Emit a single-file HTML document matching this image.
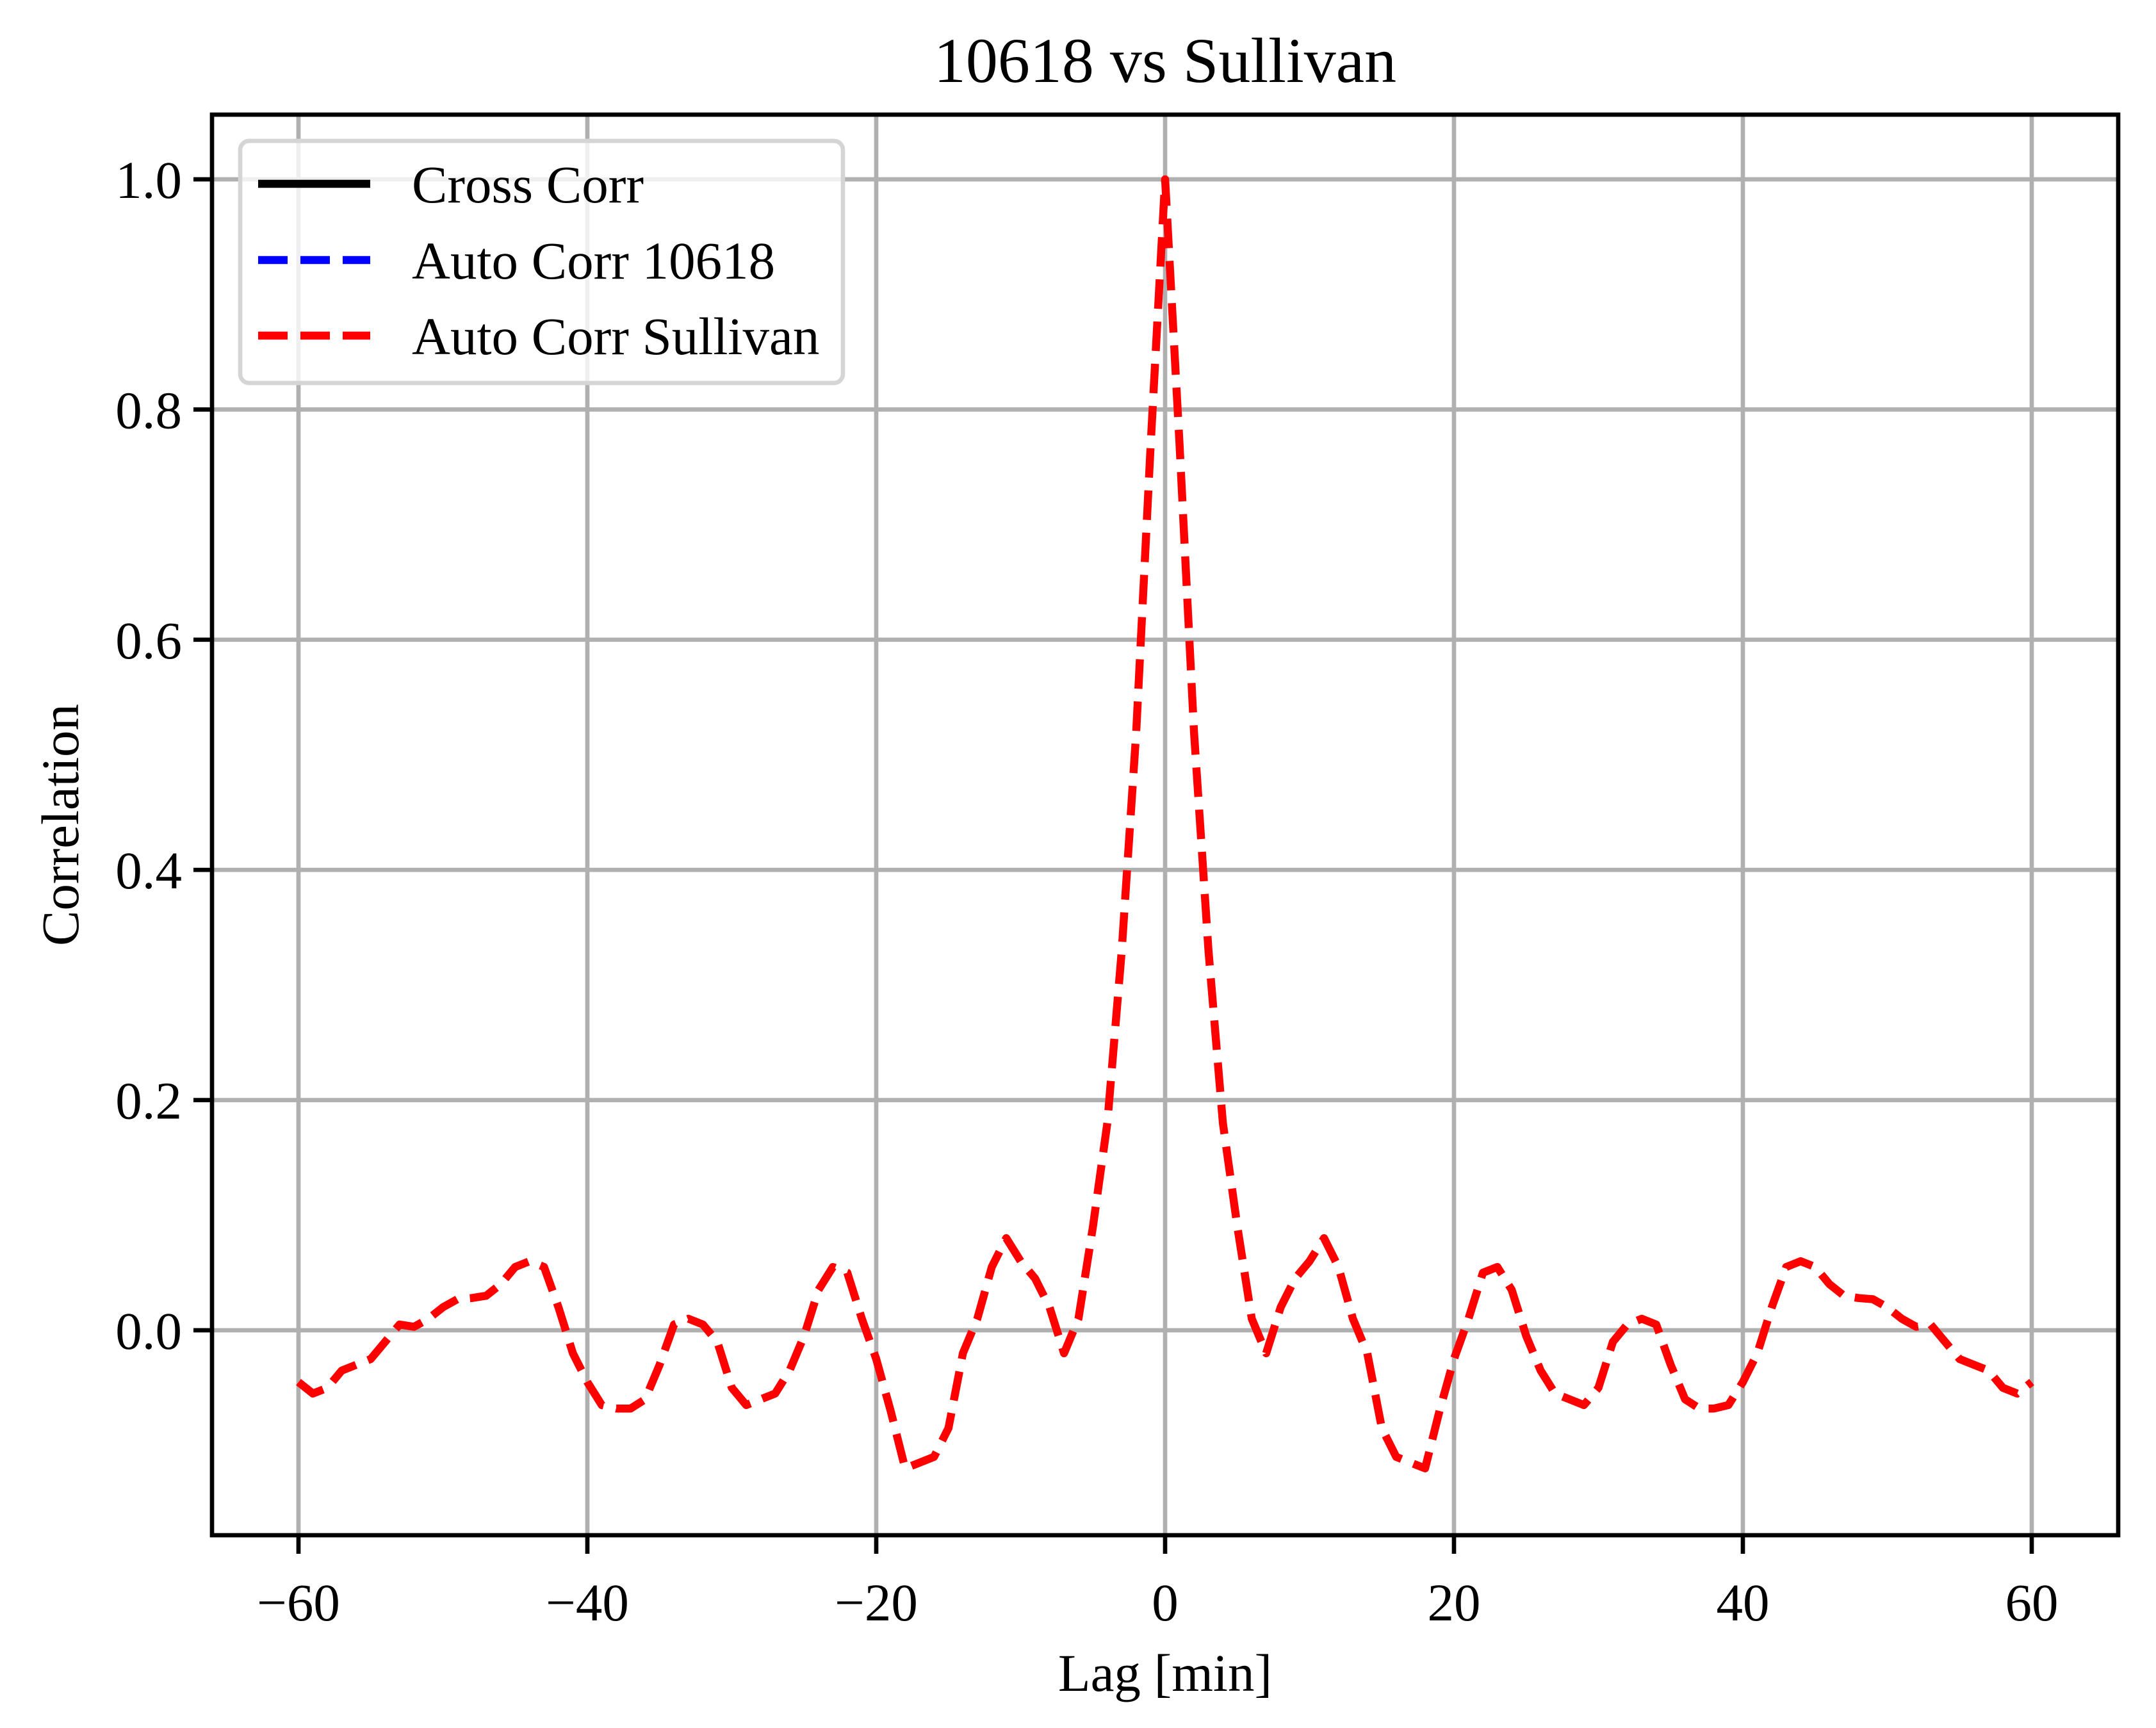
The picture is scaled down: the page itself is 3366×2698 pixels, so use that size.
<!DOCTYPE html>
<html><head><meta charset="utf-8"><style>
html,body{margin:0;padding:0;background:#fff;}
svg{display:block;font-family:"Liberation Serif",serif;}
</style></head><body>
<svg id="chart" width="3366" height="2698" viewBox="0 0 3366 2698" xmlns="http://www.w3.org/2000/svg">
<rect width="3366" height="2698" fill="#fff"/>
<g id="grid"></g>
<g id="series" clip-path="url(#clip)"></g>
<defs><clipPath id="clip"><rect x="331" y="179" width="2976" height="2218"/></clipPath></defs>
<rect x="331" y="179" width="2976" height="2218" fill="none" stroke="#000" stroke-width="6.7"/>
<g id="ticks"></g>
<text x="1819" y="128" font-size="100" text-anchor="middle">10618 vs Sullivan</text>
<text x="1819" y="2640" font-size="83" text-anchor="middle">Lag [min]</text>
<text x="0" y="0" font-size="83" text-anchor="middle" transform="translate(122,1288) rotate(-90)">Correlation</text>
<g>
<rect x="375" y="220" width="941" height="378" rx="14" fill="#fff" fill-opacity="0.8" stroke="#d5d5d5" stroke-width="6.7"/>
<g>
<line x1="403" y1="287" x2="578" y2="287" stroke="#000" stroke-width="12.5"/>
<text x="643" y="316" font-size="83">Cross Corr</text></g>
<g>
<line x1="403" y1="406" x2="578" y2="406" stroke="#0000ff" stroke-width="12.5" stroke-dasharray="46,20"/>
<text x="643" y="435" font-size="83">Auto Corr 10618</text></g>
<g>
<line x1="403" y1="524" x2="578" y2="524" stroke="#ff0000" stroke-width="12.5" stroke-dasharray="46,20"/>
<text x="643" y="553" font-size="83">Auto Corr Sullivan</text></g>
</g>
</svg>
<script>
const posLagValues = [1.0,0.77,0.52,0.33,0.18,0.09,0.01,-0.02,0.02,0.045,0.06,0.08,0.055,0.01,-0.02,-0.085,-0.11,-0.115,-0.12,-0.07,-0.025,0.01,0.05,0.055,0.035,-0.005,-0.035,-0.055,-0.06,-0.065,-0.05,-0.01,0.005,0.01,0.005,-0.03,-0.06,-0.068,-0.068,-0.065,-0.045,-0.02,0.02,0.055,0.06,0.055,0.04,0.03,0.028,0.027,0.02,0.01,0.003,0.005,-0.01,-0.025,-0.03,-0.035,-0.05,-0.055,-0.045];
const xTicks = [-60,-40,-20,0,20,40,60];
const xTickLabels = ["\u221260","\u221240","\u221220","0","20","40","60"];
const yTicks = [0.0,0.2,0.4,0.6,0.8,1.0];
const yTickLabels = ["0.0","0.2","0.4","0.6","0.8","1.0"];

const NS="http://www.w3.org/2000/svg";
const xS = v => 1819 + v*22.55;
const yS = v => 2077 - v*1797;
function mk(tag, attrs, parent){const e=document.createElementNS(NS,tag);for(const k in attrs)e.setAttribute(k,attrs[k]);parent.appendChild(e);return e;}
const grid=document.getElementById('grid'), ticks=document.getElementById('ticks'), series=document.getElementById('series');
xTicks.forEach((t,i)=>{
  const g=mk('line',{x1:xS(t),x2:xS(t),y1:179,y2:2397,stroke:'#b0b0b0','stroke-width':6.7},grid);
  
  
  const tk=mk('line',{x1:xS(t),x2:xS(t),y1:2397,y2:2426,stroke:'#000','stroke-width':6.7},ticks);
  
  
  const tx=mk('text',{x:xS(t),y:2530,'font-size':83,'text-anchor':'middle'},ticks);
  tx.textContent=xTickLabels[i];
  
  
});
yTicks.forEach((t,i)=>{
  const g=mk('line',{x1:331,x2:3307,y1:yS(t),y2:yS(t),stroke:'#b0b0b0','stroke-width':6.7},grid);
  
  
  const tk=mk('line',{x1:302,x2:331,y1:yS(t),y2:yS(t),stroke:'#000','stroke-width':6.7},ticks);
  
  
  const tx=mk('text',{x:284,y:yS(t)+29,'font-size':83,'text-anchor':'end'},ticks);
  tx.textContent=yTickLabels[i];
  
  
});
const lags=[], vals=[];
for(let l=-60;l<=60;l++){lags.push(l);vals.push(posLagValues[Math.abs(l)]);}
const d=lags.map((l,i)=>(i?'L':'M')+xS(l).toFixed(1)+' '+yS(vals[i]).toFixed(1)).join(' ');
const p=mk('path',{d:d,fill:'none',stroke:'#ff0000','stroke-width':12.5,'stroke-dasharray':'46,20','stroke-linejoin':'round'},series);


</script>
</body></html>
